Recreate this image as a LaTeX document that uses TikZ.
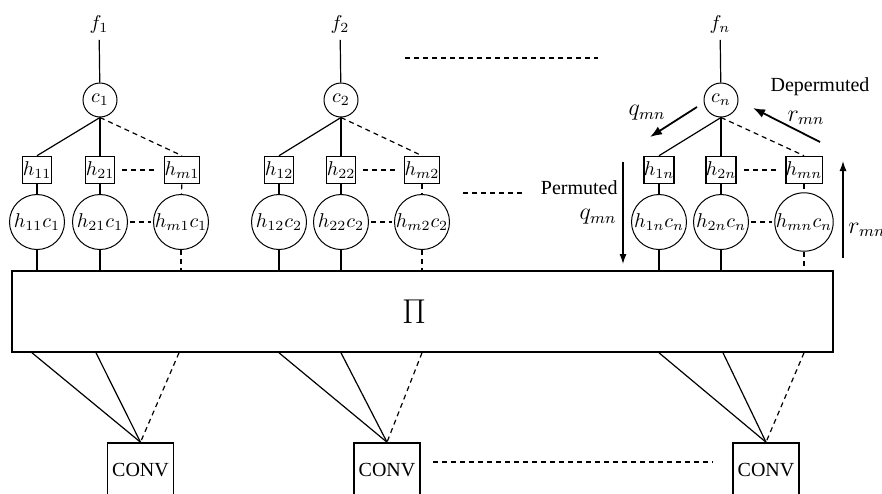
\documentclass[tikz,border=0pt]{standalone}
\usepackage{amsmath}
\usepackage{fontspec}
\setmainfont{Liberation Serif}
\usetikzlibrary{arrows.meta}

\tikzset{
  cnode/.style={draw, circle, line width=0.5pt, minimum size=17pt, inner sep=0pt},
  hnode/.style={draw, rectangle, line width=0.8pt, minimum width=14.5pt, minimum height=13.5pt, inner sep=0pt},
  hcnode/.style={draw, circle, line width=0.5pt, minimum size=27.5pt, inner sep=0pt},
  convbox/.style={draw, rectangle, line width=0.8pt, minimum width=33pt, minimum height=27pt, inner sep=0pt},
  link/.style={line width=0.6pt},
  dlink/.style={line width=0.6pt, dash pattern=on 2.5pt off 2pt},
  msg/.style={line width=0.9pt, -{Latex[length=6pt,width=4.5pt]}},
  vmsg/.style={line width=0.6pt, -{Latex[length=5pt,width=3.5pt]}},
}

\begin{document}
\begin{tikzpicture}[x=0.5pt, y=-0.5pt]
        \useasboundingbox (0,0) rectangle (882,493);

        % variable nodes and check nodes
        \node (f1) at (99,24) {$f_1$};
        \node (f2) at (340,24) {$f_2$};
        \node (fn) at (720,24) {$f_n$};
        \node [cnode] (c1) at (100,100) {$c_1$};
        \node [cnode] (c2) at (341,100) {$c_2$};
        \node [cnode] (cn) at (721,100) {$c_n$};

        % h boxes
        \node [hnode] (h11) at (37,170) {$h_{11}$};
        \node [hnode] (h21) at (100,170) {$h_{21}$};
        \node [hnode] (hm1) at (182,170) {$h_{m1}$};
        \node [hnode] (h12) at (279,170) {$h_{12}$};
        \node [hnode] (h22) at (341,170) {$h_{22}$};
        \node [hnode] (hm2) at (422,170) {$h_{m2}$};
        \node [hnode] (h1n) at (659,170) {$h_{1n}$};
        \node [hnode] (h2n) at (721,170) {$h_{2n}$};
        \node [hnode] (hmn) at (804,170) {$h_{mn}$};

        % products
        \node [hcnode] (hc11) at (37,222) {$h_{11}c_1$};
        \node [hcnode] (hc21) at (100,222) {$h_{21}c_1$};
        \node [hcnode] (hcm1) at (181,222) {$h_{m1}c_1$};
        \node [hcnode] (hc12) at (279,222) {$h_{12}c_2$};
        \node [hcnode] (hc22) at (341,222) {$h_{22}c_2$};
        \node [hcnode] (hcm2) at (422,222) {$h_{m2}c_2$};
        \node [hcnode] (hc1n) at (659,222) {$h_{1n}c_n$};
        \node [hcnode] (hc2n) at (721,222) {$h_{2n}c_n$};
        \node [hcnode] (hcmn) at (804,222) {$h_{mn}c_n$};

        % interleaver and convolutional codes
        \node [draw, line width=0.8pt, minimum width=410.5pt, minimum height=40.5pt] (perm) at (422.5,311.5) {};
        \node (pilabel) at (414,312) {\LARGE$\Pi$};
        \node [convbox] (conv1) at (140.5,470) {CONV};
        \node [convbox] (conv2) at (387,470) {CONV};
        \node [convbox] (conv3) at (766,470) {CONV};

        \draw[link] (f1) -- (c1);
        \draw[link] (f2) -- (c2);
        \draw[link] (fn) -- (cn);

        \draw[link] (c1.south) -- (h11.north);
        \draw[link] (c1.south) -- (h21.north);
        \draw[dlink] (c1.south) -- (hm1.north);
        \draw[link] (c2.south) -- (h12.north);
        \draw[link] (c2.south) -- (h22.north);
        \draw[dlink] (c2.south) -- (hm2.north);
        \draw[link] (cn.south) -- (h1n.north);
        \draw[link] (cn.south) -- (h2n.north);
        \draw[dlink] (cn.south) -- (hmn.north);

        \draw[link] (h11) -- (hc11);
        \draw[link] (h21) -- (hc21);
        \draw[dlink] (hm1) -- (hcm1);
        \draw[link] (h12) -- (hc12);
        \draw[link] (h22) -- (hc22);
        \draw[dlink] (hm2) -- (hcm2);
        \draw[link] (h1n) -- (hc1n);
        \draw[link] (h2n) -- (hc2n);
        \draw[dlink] (hmn) -- (hcmn);

        \draw[dlink, shorten <=3.5pt, shorten >=3.5pt] (h21) -- (hm1);
        \draw[dlink, shorten <=3.5pt, shorten >=3.5pt] (h22) -- (hm2);
        \draw[dlink, shorten <=3.5pt, shorten >=3.5pt] (h2n) -- (hmn);
        \draw[dlink, shorten <=1pt, shorten >=1pt] (hc21) -- (hcm1);
        \draw[dlink, shorten <=1pt, shorten >=1pt] (hc22) -- (hcm2);
        \draw[dlink, shorten <=1pt, shorten >=1pt] (hc2n) -- (hcmn);

        \draw[link] (hc11) -- (hc11 |- perm.north);
        \draw[link] (hc21) -- (hc21 |- perm.north);
        \draw[dlink] (hcm1) -- (hcm1 |- perm.north);
        \draw[link] (hc12) -- (hc12 |- perm.north);
        \draw[link] (hc22) -- (hc22 |- perm.north);
        \draw[dlink] (hcm2) -- (hcm2 |- perm.north);
        \draw[link] (hc1n) -- (hc1n |- perm.north);
        \draw[link] (hc2n) -- (hc2n |- perm.north);
        \draw[dlink] (hcmn) -- (hcmn |- perm.north);

        \draw[link] ([xshift=-2.5pt]hc11 |- perm.south) -- (conv1.north);
        \draw[link] ([xshift=-2pt]hc21 |- perm.south) -- (conv1.north);
        \draw[dlink] ([xshift=-1pt]hcm1 |- perm.south) -- (conv1.north);
        \draw[link] (hc12 |- perm.south) -- (conv2.north);
        \draw[link] (hc22 |- perm.south) -- (conv2.north);
        \draw[dlink] (hcm2 |- perm.south) -- (conv2.north);
        \draw[link] (hc1n |- perm.south) -- (conv3.north);
        \draw[link] ([xshift=1pt]hc2n |- perm.south) -- (conv3.north);
        \draw[dlink] (hcmn |- perm.south) -- (conv3.north);

        % dots between the groups
        \coordinate (dota) at (405,58);
        \coordinate (dotb) at (598,58);
        \coordinate (dotc) at (463,193);
        \coordinate (dotd) at (523,193);
        \coordinate (dote) at (433,462);
        \coordinate (dotf) at (713,462);
        \draw[dlink] (dota) -- (dotb);
        \draw[dlink] (dotc) -- (dotd);
        \draw[dlink] (dote) -- (dotf);

        % messages
        \coordinate (qa) at (697,107);
        \coordinate (qb) at (650,137);
        \coordinate (ra) at (820,142);
        \coordinate (rb) at (753,108);
        \coordinate (pa) at (623,162);
        \coordinate (pb) at (623,264);
        \coordinate (da) at (843,258);
        \coordinate (db) at (843,161);
        \draw[msg] (qa) -- (qb);
        \draw[msg] (ra) -- (rb);
        \draw[vmsg] (pa) -- (pb);
        \draw[vmsg] (da) -- (db);

        \node (qlabel) at (647,113) {\large$q_{mn}$};
        \node (rlabel) at (806,118) {\large$r_{mn}$};
        \node (deperm) at (820,87) {Depermuted};
        \node [anchor=east, inner sep=0pt] (permtext) at (618,188) {Permuted};
        \node [inner sep=0pt] (qlabel2) at (598,217) {\large$q_{mn}$};
        \node [anchor=west, inner sep=0pt] (rlabel2) at (848,230) {\large$r_{mn}$};
      \end{tikzpicture}
\end{document}
